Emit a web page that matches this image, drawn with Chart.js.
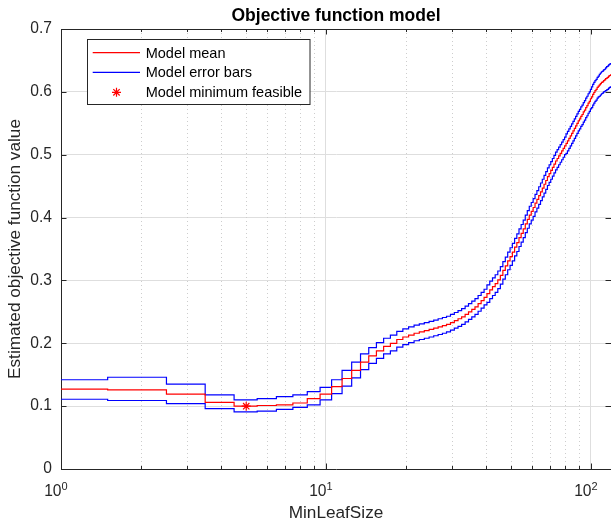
<!DOCTYPE html>
<html>
<head>
<meta charset="utf-8">
<script src="https://cdn.jsdelivr.net/npm/chart.js@4.4.1/dist/chart.umd.min.js"></script>
<style>
  html, body { margin: 0; padding: 0; background: #fff; overflow: hidden; }
  #wrap { width: 611px; height: 529px; }
  canvas { display: block; }
</style>
</head>
<body>
<div id="wrap"><canvas id="c" width="611" height="529"></canvas></div>
<script>
// MinLeafSize values 1..119 (integer categories)
const leafSizes = Array.from({ length: 119 }, (_, i) => i + 1);

const modelMean = [
  0.127, 0.126, 0.119, 0.106, 0.100, 0.101, 0.102, 0.105, 0.112, 0.119,
  0.131, 0.144, 0.157, 0.170, 0.180, 0.188, 0.195, 0.200, 0.206, 0.210,
  0.213, 0.216, 0.218, 0.220, 0.222, 0.224, 0.226, 0.228, 0.230, 0.233,
  0.236, 0.239, 0.242, 0.246, 0.250, 0.254, 0.258, 0.263, 0.268, 0.273,
  0.279, 0.285, 0.290, 0.295, 0.301, 0.308, 0.316, 0.323, 0.331, 0.338,
  0.345, 0.353, 0.360, 0.368, 0.375, 0.382, 0.390, 0.397, 0.404, 0.410,
  0.416, 0.423, 0.429, 0.435, 0.441, 0.447, 0.453, 0.459, 0.465, 0.470,
  0.475, 0.480, 0.485, 0.490, 0.494, 0.498, 0.502, 0.506, 0.510, 0.514,
  0.518, 0.522, 0.526, 0.530, 0.534, 0.538, 0.542, 0.546, 0.550, 0.554,
  0.557, 0.561, 0.564, 0.568, 0.571, 0.575, 0.578, 0.582, 0.585, 0.589,
  0.592, 0.596, 0.599, 0.602, 0.604, 0.607, 0.609, 0.611, 0.613, 0.615,
  0.616, 0.618, 0.619, 0.621, 0.622, 0.623, 0.625, 0.626, 0.627
];

const upperBound = [
  0.142, 0.146, 0.135, 0.118, 0.110, 0.112, 0.115, 0.118, 0.123, 0.130,
  0.142, 0.157, 0.170, 0.183, 0.193, 0.201, 0.208, 0.213, 0.219, 0.223,
  0.226, 0.229, 0.231, 0.233, 0.235, 0.237, 0.239, 0.241, 0.243, 0.246,
  0.249, 0.252, 0.255, 0.259, 0.263, 0.267, 0.271, 0.276, 0.281, 0.286,
  0.293, 0.299, 0.304, 0.309, 0.315, 0.322, 0.330, 0.337, 0.345, 0.352,
  0.359, 0.367, 0.374, 0.382, 0.389, 0.396, 0.404, 0.411, 0.418, 0.424,
  0.430, 0.437, 0.443, 0.449, 0.455, 0.461, 0.467, 0.473, 0.479, 0.484,
  0.489, 0.494, 0.499, 0.504, 0.508, 0.512, 0.516, 0.520, 0.524, 0.528,
  0.533, 0.537, 0.541, 0.545, 0.549, 0.553, 0.557, 0.561, 0.565, 0.569,
  0.572, 0.576, 0.579, 0.583, 0.586, 0.590, 0.593, 0.597, 0.600, 0.604,
  0.608, 0.612, 0.615, 0.618, 0.620, 0.623, 0.625, 0.628, 0.630, 0.632,
  0.633, 0.635, 0.636, 0.638, 0.640, 0.641, 0.643, 0.644, 0.645
];

const lowerBound = [
  0.111, 0.109, 0.104, 0.096, 0.091, 0.092, 0.095, 0.098, 0.102, 0.110,
  0.120, 0.132, 0.145, 0.158, 0.168, 0.176, 0.183, 0.188, 0.194, 0.198,
  0.201, 0.204, 0.206, 0.208, 0.210, 0.212, 0.214, 0.216, 0.218, 0.221,
  0.224, 0.227, 0.230, 0.234, 0.238, 0.242, 0.246, 0.251, 0.256, 0.261,
  0.265, 0.271, 0.276, 0.281, 0.287, 0.294, 0.302, 0.309, 0.317, 0.324,
  0.331, 0.339, 0.346, 0.354, 0.361, 0.368, 0.376, 0.383, 0.390, 0.396,
  0.402, 0.409, 0.415, 0.421, 0.427, 0.433, 0.439, 0.445, 0.451, 0.456,
  0.461, 0.466, 0.471, 0.476, 0.480, 0.484, 0.488, 0.492, 0.496, 0.500,
  0.502, 0.506, 0.510, 0.514, 0.518, 0.522, 0.526, 0.530, 0.534, 0.538,
  0.541, 0.545, 0.548, 0.552, 0.555, 0.559, 0.562, 0.566, 0.569, 0.573,
  0.575, 0.579, 0.582, 0.585, 0.587, 0.590, 0.592, 0.593, 0.595, 0.597,
  0.598, 0.600, 0.601, 0.602, 0.603, 0.604, 0.606, 0.607, 0.608
];

const minFeasibleX = [5];
const minFeasibleY = [0.100];

const xMin = 1, xMax = 119;
const xMajorTicks = [1, 10, 100];
const xMinorTicks = [2, 3, 4, 5, 6, 7, 8, 9, 20, 30, 40, 50, 60, 70, 80, 90];
const xTickBase = ['10', '10', '10'];
const xTickExp = ['0', '1', '2'];
const yTickValues = [0, 0.1, 0.2, 0.3, 0.4, 0.5, 0.6, 0.7];
const yTickLabels = ['0', '0.1', '0.2', '0.3', '0.4', '0.5', '0.6', '0.7'];

const FONT = "'Liberation Sans', Arial, Helvetica, sans-serif";
const AXIS_COLOR = '#262626';

// stufen: jeder Wert gilt von k-0.5 bis k+0.5
function stepPoints(vals) {
  const pts = leafSizes.map((k, i) => ({ x: Math.max(xMin, k - 0.5), y: vals[i] }));
  pts.push({ x: xMax, y: vals[vals.length - 1] });
  return pts;
}

// gepunktete Nebengitter + Tickmarken + Rahmen
const matlabAxes = {
  id: 'matlabAxes',
  beforeDatasetsDraw(chart) {
    const { ctx, chartArea: a, scales: { x } } = chart;
    ctx.save();
    ctx.strokeStyle = '#cdcdcd';
    ctx.lineWidth = 1;
    ctx.setLineDash([1, 3]);
    xMinorTicks.forEach(v => {
      const px = Math.round(x.getPixelForValue(v)) + 0.5;
      ctx.beginPath();
      ctx.moveTo(px, a.top);
      ctx.lineTo(px, a.bottom);
      ctx.stroke();
    });
    ctx.restore();
  },
  afterDatasetsDraw(chart) {
    const { ctx, chartArea: a, scales: { x, y } } = chart;
    ctx.save();
    ctx.strokeStyle = AXIS_COLOR;
    ctx.lineWidth = 1;
    ctx.beginPath();
    ctx.moveTo(a.left, a.top + 0.5);
    ctx.lineTo(a.right, a.top + 0.5);
    ctx.stroke();
    const tick = (v, len) => {
      const px = Math.round(x.getPixelForValue(v)) + 0.5;
      ctx.moveTo(px, a.bottom); ctx.lineTo(px, a.bottom - len);
      ctx.moveTo(px, a.top); ctx.lineTo(px, a.top + len);
    };
    ctx.beginPath();
    xMajorTicks.forEach(v => tick(v, 5.5));
    xMinorTicks.forEach(v => tick(v, 3));
    yTickValues.forEach(v => {
      const py = Math.round(y.getPixelForValue(v)) + 0.5;
      ctx.moveTo(a.left, py); ctx.lineTo(a.left + 5.5, py);
      ctx.moveTo(a.right, py); ctx.lineTo(a.right - 5.5, py);
    });
    ctx.stroke();
    ctx.restore();
  },
  afterDraw(chart) {
    const { ctx, chartArea: a, scales: { x } } = chart;
    ctx.save();
    // Titel
    ctx.fillStyle = '#000';
    ctx.font = 'bold 17.5px ' + FONT;
    ctx.textAlign = 'center';
    ctx.textBaseline = 'alphabetic';
    ctx.fillText('Objective function model', (a.left + a.right) / 2, 21);

    // x-Beschriftung 10^n
    ctx.fillStyle = AXIS_COLOR;
    xMajorTicks.forEach((v, i) => {
      const px = x.getPixelForValue(v);
      ctx.font = '15.6px ' + FONT;
      ctx.textAlign = 'right';
      ctx.fillText(xTickBase[i], px + 0.5, 496);
      ctx.font = '11px ' + FONT;
      ctx.textAlign = 'left';
      ctx.fillText(xTickExp[i], px + 0.5, 490);
    });

    // Legende
    const lx = 87.5, ly = 39.5, lw = 222.5, lh = 65;
    ctx.fillStyle = '#fff';
    ctx.fillRect(lx, ly, lw, lh);
    ctx.strokeStyle = AXIS_COLOR;
    ctx.lineWidth = 1;
    ctx.strokeRect(lx, ly, lw, lh);
    const items = chart.data.datasets.filter(d => d.inLegend);
    const rowY = [52.7, 72.3, 92.3];
    ctx.font = '14.5px ' + FONT;
    ctx.textAlign = 'left';
    ctx.textBaseline = 'middle';
    items.forEach((d, i) => {
      const yy = rowY[i];
      ctx.strokeStyle = d.borderColor;
      ctx.lineWidth = 1.2;
      if (d.pointStyle === 'star') {
        const cx = 116.5, r = 4.5;
        ctx.beginPath();
        ctx.moveTo(cx - r, yy); ctx.lineTo(cx + r, yy);
        ctx.moveTo(cx, yy - r); ctx.lineTo(cx, yy + r);
        const q = r * 0.7071;
        ctx.moveTo(cx - q, yy - q); ctx.lineTo(cx + q, yy + q);
        ctx.moveTo(cx - q, yy + q); ctx.lineTo(cx + q, yy - q);
        ctx.stroke();
      } else {
        ctx.beginPath();
        ctx.moveTo(92.7, yy); ctx.lineTo(140, yy);
        ctx.stroke();
      }
      ctx.fillStyle = '#000';
      ctx.fillText(d.label, 145.7, yy + 1);
    });
    ctx.restore();
  }
};

new Chart(document.getElementById('c'), {
  type: 'line',
  data: {
    datasets: [
      {
        label: 'Model mean', inLegend: true,
        data: stepPoints(modelMean),
        borderColor: '#ff0000', borderWidth: 1.2, stepped: true,
        pointRadius: 0, fill: false, order: 1
      },
      {
        label: 'Model error bars', inLegend: true,
        data: stepPoints(upperBound),
        borderColor: '#0000ff', borderWidth: 1.2, stepped: true,
        pointRadius: 0, fill: false, order: 2
      },
      {
        label: 'Model error bars (lower)', inLegend: false,
        data: stepPoints(lowerBound),
        borderColor: '#0000ff', borderWidth: 1.2, stepped: true,
        pointRadius: 0, fill: false, order: 2
      },
      {
        label: 'Model minimum feasible', inLegend: true,
        data: minFeasibleX.map((v, i) => ({ x: v, y: minFeasibleY[i] })),
        borderColor: '#ff0000', backgroundColor: '#ff0000',
        showLine: false, pointStyle: 'star', pointRadius: 4.5,
        pointBorderWidth: 1.2, order: 0
      }
    ]
  },
  options: {
    responsive: false,
    animation: false,
    devicePixelRatio: 1,
    layout: { autoPadding: false, padding: { top: 29, left: 0, right: 0, bottom: 0 } },
    plugins: {
      legend: { display: false },
      title: { display: false },
      tooltip: { enabled: false }
    },
    scales: {
      x: {
        type: 'logarithmic',
        min: xMin, max: xMax,
        afterBuildTicks: s => { s.ticks = xMajorTicks.map(v => ({ value: v, major: true })); },
        afterFit: s => { s.height = 60; },
        ticks: { display: false },
        grid: { color: '#dedede', lineWidth: 1, drawTicks: false },
        border: { display: true, color: AXIS_COLOR, width: 1 },
        title: {
          display: true, text: 'MinLeafSize', color: AXIS_COLOR,
          font: { family: FONT, size: 17.2 }, padding: { top: 0, bottom: 5 }
        }
      },
      y: {
        type: 'linear',
        min: 0, max: 0.7,
        afterBuildTicks: s => { s.ticks = yTickValues.map(v => ({ value: v })); },
        afterFit: s => { s.width = 61; },
        ticks: {
          callback: (v, i) => yTickLabels[i],
          color: AXIS_COLOR, padding: 9,
          font: { family: FONT, size: 15.6 }
        },
        grid: { color: '#dedede', lineWidth: 1, drawTicks: false },
        border: { display: true, color: AXIS_COLOR, width: 1 },
        title: {
          display: true, text: 'Estimated objective function value', color: AXIS_COLOR,
          font: { family: FONT, size: 17.2 }, padding: { top: 5, bottom: 0 }
        }
      }
    }
  },
  plugins: [matlabAxes]
});
</script>
</body>
</html>
